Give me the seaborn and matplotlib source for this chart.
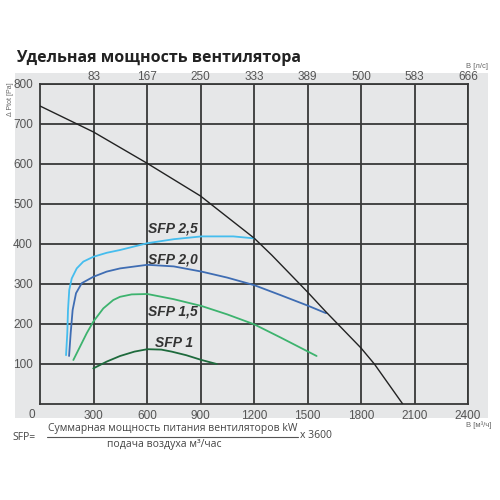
import numpy as np
import pandas as pd
import seaborn as sns
import matplotlib.pyplot as plt
from matplotlib.patches import Rectangle

# Axis ticks
q_ticks = [300, 600, 900, 1200, 1500, 1800, 2100, 2400]
ls_labels = ['83', '167', '250', '333', '389', '500', '583', '666']
p_ticks = [100, 200, 300, 400, 500, 600, 700, 800]

# Fan curve (m3/h, Pa)
fan_q = [0, 300, 600, 900, 1000, 1100, 1200, 1300, 1400, 1500, 1600, 1700, 1800, 1875, 2034]
fan_p = [745, 680, 602, 520, 485, 450, 415, 372, 326, 280, 232, 186, 140, 100, 0]

# SFP curves
sfp25_q = [146, 153, 157, 164, 178, 206, 243, 299, 374, 449, 602, 750, 906, 1084, 1202]
sfp25_p = [122, 177, 235, 285, 314, 339, 356, 368, 378, 385, 402, 412, 419, 419, 414]
sfp20_q = [163, 172, 183, 202, 234, 299, 374, 449, 602, 750, 906, 1050, 1202, 1350, 1501, 1604]
sfp20_p = [120, 177, 235, 277, 302, 318, 331, 339, 348, 344, 331, 316, 297, 272, 246, 227]
sfp15_q = [187, 224, 262, 299, 355, 411, 449, 514, 602, 750, 906, 1050, 1202, 1350, 1551]
sfp15_p = [110, 143, 177, 206, 239, 260, 268, 274, 275, 262, 245, 224, 199, 166, 120]
sfp10_q = [299, 374, 449, 530, 602, 680, 738, 820, 906, 991]
sfp10_p = [89, 106, 120, 131, 137, 136, 131, 122, 110, 100]

sfp_names = ['SFP 2,5', 'SFP 2,0', 'SFP 1,5', 'SFP 1']
sfp_colors = ['#45bdee', '#3f6db3', '#3db36e', '#1e6a3c']
# label anchors (left x, centre y)
label_q = [607, 607, 607, 645]
label_p = [439, 362, 232, 153]

sns.set_style('white')
plt.rcParams['font.family'] = ['Liberation Sans', 'DejaVu Sans']

fig = plt.figure(figsize=(5, 5), dpi=100)
fig.patches.append(Rectangle((0.03, 0.164), 0.946, 0.69, transform=fig.transFigure,
                             facecolor='#e6e7e8', edgecolor='none', zorder=-5))
ax = fig.add_axes([0.08, 0.192, 0.856, 0.64])
ax.set_facecolor('#e6e7e8')

grid_c = '#383838'
sns.lineplot(x=fan_q, y=fan_p, ax=ax, color='#222222', linewidth=1.0, sort=False, zorder=4)
for q, p, c in zip([sfp25_q, sfp20_q, sfp15_q, sfp10_q],
                   [sfp25_p, sfp20_p, sfp15_p, sfp10_p], sfp_colors):
    sns.lineplot(x=q, y=p, ax=ax, color=c, linewidth=1.3, sort=False, zorder=3)
for name, lq, lp in zip(sfp_names, label_q, label_p):
    ax.text(lq, lp, name, fontsize=10, fontweight='bold', fontstyle='italic',
            color='#333333', ha='left', va='center', zorder=5)

ax.set_xlim(0, 2400)
ax.set_ylim(0, 800)
ax.set_xticks(q_ticks)
ax.set_xticklabels([str(v) for v in q_ticks])
ax.set_yticks(p_ticks)
ax.set_yticklabels([str(v) for v in p_ticks])
ax.grid(True, color=grid_c, linewidth=1.3)
ax.set_axisbelow(True)
for s in ax.spines.values():
    s.set_color(grid_c)
    s.set_linewidth(1.3)
ax.tick_params(axis='both', length=0, labelsize=8.5, labelcolor='#555555')
ax.tick_params(axis='x', pad=4)
ax.tick_params(axis='y', pad=5)
ax.set_xlabel('')
ax.set_ylabel('')

ax2 = ax.twiny()
ax2.set_xlim(0, 2400)
ax2.set_xticks(q_ticks)
ax2.set_xticklabels(ls_labels)
ax2.tick_params(axis='x', length=0, labelsize=8.5, labelcolor='#555555', pad=1)
for s in ax2.spines.values():
    s.set_visible(False)

ax.annotate('0', xy=(0, 0), xycoords='axes fraction', xytext=(-6, -8),
            textcoords='offset points', ha='center', va='center',
            fontsize=8.5, color='#555555')

fig.text(0.955, 0.868, 'B [л/с]', fontsize=5.5, color='#666666', ha='center', va='center')
fig.text(0.958, 0.150, 'B [м³/ч]', fontsize=5.5, color='#666666', ha='center', va='center')
fig.text(0.02, 0.836, 'Δ Ptot [Pa]', fontsize=5, color='#666666', rotation=90,
         ha='center', va='top')

fig.text(0.032, 0.884, 'Удельная мощность вентилятора', fontsize=11.5,
         fontweight='bold', family='Open Sans', color='#222222', ha='left', va='center')

fig.text(0.024, 0.126, 'SFP=', fontsize=7.5, family='Open Sans', color='#444444',
         ha='left', va='center')
fig.text(0.345, 0.144, 'Суммарная мощность питания вентиляторов kW', fontsize=7.5,
         family='Open Sans', color='#444444', ha='center', va='center')
fig.add_artist(plt.Line2D([0.094, 0.596], [0.127, 0.127], color='#555555', linewidth=0.8))
fig.text(0.600, 0.130, 'x 3600', fontsize=7.5, family='Open Sans', color='#444444',
         ha='left', va='center')
fig.text(0.328, 0.110, 'подача воздуха м³/час', fontsize=7.5, family='Open Sans',
         color='#444444', ha='center', va='center')

fig.savefig('out.png', dpi=100)
